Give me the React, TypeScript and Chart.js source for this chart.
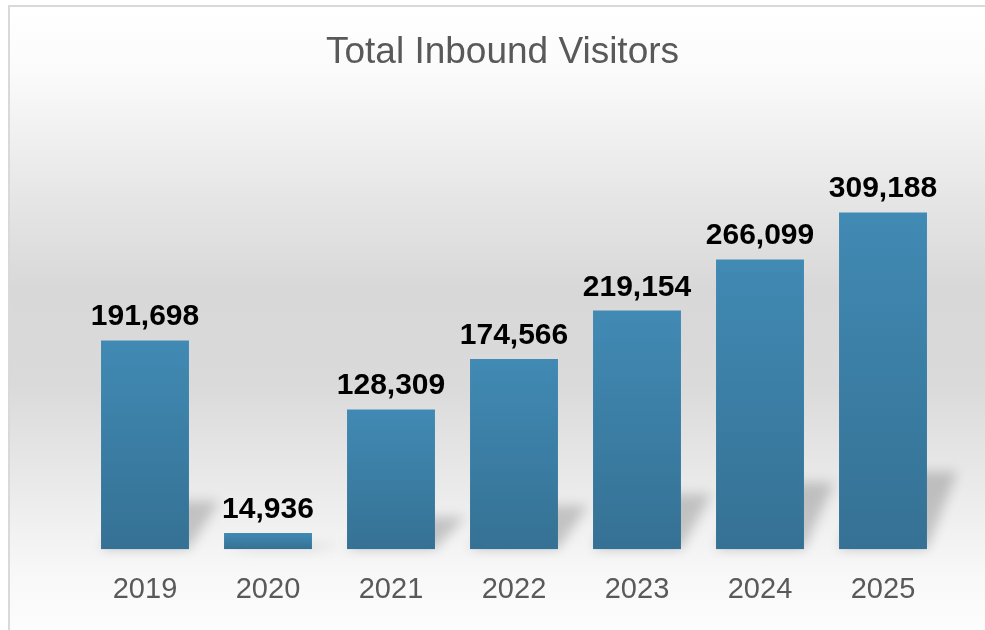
import React, { useEffect, useRef } from "react";
import { Chart, registerables } from "chart.js";

Chart.register(...registerables);

const chartTitle = "Total Inbound Visitors";
const categories = ["2019", "2020", "2021", "2022", "2023", "2024", "2025"];
const visitors = [191698, 14936, 128309, 174566, 219154, 266099, 309188];
const yMax = 350000;

const FONT = "'Liberation Sans', Arial, sans-serif";

const shadowPlugin = {
  id: "barShadow",
  beforeDatasetsDraw(chart: any) {
    const ctx = chart.ctx;
    const meta = chart.getDatasetMeta(0);
    ctx.save();
    ctx.filter = "blur(6px)";
    ctx.fillStyle = "rgba(0,0,0,0.19)";
    ctx.beginPath();
    meta.data.forEach((bar: any) => {
      const { x, y, base, width } = bar.getProps(["x", "y", "base", "width"], true);
      const h = base - y;
      const dy = h * 0.23;
      const dx = 30;
      const l = x - width / 2;
      const r = x + width / 2;
      ctx.moveTo(l, base);
      ctx.lineTo(r, base);
      ctx.lineTo(r + dx, base - dy);
      ctx.lineTo(l + dx, base - dy);
      ctx.closePath();
    });
    ctx.fill();
    ctx.restore();
  },
};

const labelPlugin = {
  id: "valueLabels",
  afterDatasetsDraw(chart: any) {
    const ctx = chart.ctx;
    const meta = chart.getDatasetMeta(0);
    ctx.save();
    ctx.font = `bold 30px ${FONT}`;
    ctx.fillStyle = "#000000";
    ctx.textAlign = "center";
    ctx.textBaseline = "alphabetic";
    meta.data.forEach((bar: any, i: number) => {
      const { x, y } = bar.getProps(["x", "y"], true);
      ctx.fillText(visitors[i].toLocaleString("en-US"), x, y - 15);
    });
    ctx.restore();
  },
};

const titlePlugin = {
  id: "centeredTitle",
  afterDraw(chart: any) {
    const ctx = chart.ctx;
    ctx.save();
    ctx.font = `37px ${FONT}`;
    ctx.fillStyle = "#595959";
    ctx.textAlign = "center";
    ctx.textBaseline = "alphabetic";
    ctx.fillText(chartTitle, chart.width / 2 + 10, 63);
    ctx.restore();
  },
};

export default function App() {
  const ref = useRef<HTMLCanvasElement>(null);
  useEffect(() => {
    if (!ref.current) return;
    const chart = new Chart(ref.current, {
      type: "bar",
      data: {
        labels: categories,
        datasets: [
          {
            data: visitors,
            categoryPercentage: 1,
            barPercentage: 0.715,
            backgroundColor: (c: any) => {
              const ch = c.chart;
              const ys = ch.scales && ch.scales.y;
              if (!ys || c.type !== "data") return "#3c7ea5";
              const top = ys.getPixelForValue(c.raw);
              const bot = ys.getPixelForValue(0);
              if (!isFinite(top) || !isFinite(bot) || top === bot) return "#3c7ea5";
              const g = ch.ctx.createLinearGradient(0, top, 0, bot);
              g.addColorStop(0, "#418ab4");
              g.addColorStop(1, "#357194");
              return g;
            },
          },
        ],
      },
      options: {
        responsive: false,
        animation: false,
        devicePixelRatio: 1,
        layout: { padding: { left: 83.5, right: 40.5, top: 168, bottom: 0 } },
        plugins: {
          legend: { display: false },
          tooltip: { enabled: false },
          title: { display: false },
        },
        scales: {
          x: {
            grid: { display: false, drawTicks: false },
            border: { display: false },
            ticks: {
              color: "#595959",
              font: { family: FONT, size: 29 },
              padding: 23,
            },
          },
          y: {
            display: false,
            min: 0,
            max: yMax,
          },
        },
      },
      plugins: [shadowPlugin, labelPlugin, titlePlugin],
    });
    return () => chart.destroy();
  }, []);

  return (
    <div style={{ position: "fixed", left: 0, top: 0, width: 985, height: 630, background: "#ffffff", overflow: "hidden" }}>
      <div
        style={{
          position: "absolute",
          left: 8,
          top: 5,
          width: 985,
          height: 630,
          borderLeft: "2px solid #d9d9d9",
          borderTop: "2px solid #d9d9d9",
          background:
            "linear-gradient(to bottom, #ffffff 0%, #fbfbfb 10%, #e6e6e6 30%, #d8d8d8 45%, #dadada 60%, #ececec 78%, #f8f8f8 90%, #fdfdfd 100%)",
        }}
      />
      <canvas ref={ref} width={985} height={630} style={{ position: "absolute", left: 0, top: 0 }} />
    </div>
  );
}
